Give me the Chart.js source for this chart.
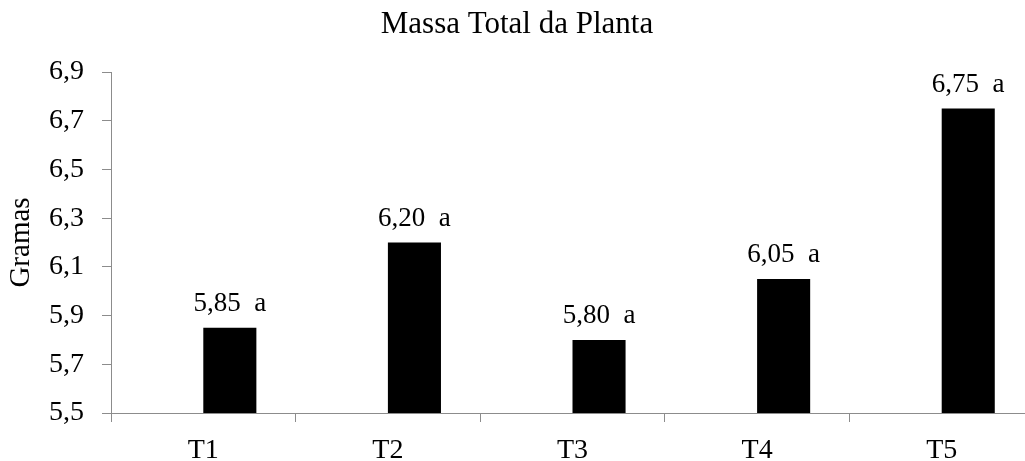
<!DOCTYPE html>
<html>
<head>
<meta charset="utf-8">
<script src="https://cdn.jsdelivr.net/npm/chart.js@4.4.1/dist/chart.umd.min.js"></script>
<style>
  html, body { margin: 0; padding: 0; background: #fff; overflow: hidden; }
  #wrap { width: 1034px; height: 461px; position: relative; }
</style>
</head>
<body>
<div id="wrap"><canvas id="massa"></canvas></div>
<script>
// dados do grafico
var categorias = ['T1', 'T2', 'T3', 'T4', 'T5'];
var massaTotal = [5.85, 6.20, 5.80, 6.05, 6.75];
var letras = ['a', 'a', 'a', 'a', 'a'];
var vazio = [null, null, null, null, null];
var yMin = 5.5, yMax = 6.9, yPasso = 0.2;

var serif = '"Liberation Serif", "Times New Roman", serif';
var cinza = '#8c8c8c';

function virgula(v, casas) {
    return v.toFixed(casas).replace('.', ',');
}

// rotulos em cima das barras
var rotulos = {
    id: 'rotulos',
    afterDatasetsDraw: function(chart) {
        var ctx = chart.ctx;
        var meta = chart.getDatasetMeta(1);
        ctx.save();
        ctx.font = '27px ' + serif;
        ctx.fillStyle = '#000';
        ctx.textAlign = 'center';
        ctx.textBaseline = 'alphabetic';
        meta.data.forEach(function(bar, i) {
            var txt = virgula(massaTotal[i], 2) + '  ' + letras[i];
            ctx.fillText(txt, bar.x, bar.y - 17);
        });
        ctx.restore();
    }
};

new Chart(document.getElementById('massa'), {
    type: 'bar',
    data: {
        labels: categorias,
        datasets: [
            { data: vazio, backgroundColor: '#000' },
            { data: massaTotal, backgroundColor: '#000' }
        ]
    },
    options: {
        responsive: true,
        maintainAspectRatio: false,
        animation: false,
        categoryPercentage: 0.575,
        barPercentage: 1,
        layout: { padding: { left: 0, right: 0, top: 0, bottom: 0 } },
        plugins: {
            legend: { display: false },
            tooltip: { enabled: false },
            title: {
                display: true,
                text: 'Massa Total da Planta',
                color: '#000',
                font: { family: serif, size: 31, weight: 'normal' },
                padding: { top: 6, bottom: 28.8 }
            }
        },
        scales: {
            x: {
                afterFit: function(s) { s.height = 48; },
                grid: { display: true, drawOnChartArea: false, drawTicks: true, tickLength: 9, color: cinza, offset: true },
                border: { display: true, color: cinza, width: 1 },
                ticks: { color: '#000', padding: 12, font: { family: serif, size: 28 } }
            },
            y: {
                min: yMin,
                max: yMax,
                afterFit: function(s) { s.width = 111; },
                grid: { display: true, drawOnChartArea: false, drawTicks: true, tickLength: 9, color: cinza },
                border: { display: true, color: cinza, width: 1 },
                ticks: {
                    stepSize: yPasso,
                    color: '#000',
                    padding: 18,
                    font: { family: serif, size: 28 },
                    callback: function(v) { return virgula(v, 1); }
                },
                title: {
                    display: true,
                    text: 'Gramas',
                    color: '#000',
                    font: { family: serif, size: 29 },
                    padding: { top: 4, bottom: 0 }
                }
            }
        }
    },
    plugins: [rotulos]
});
</script>
</body>
</html>
